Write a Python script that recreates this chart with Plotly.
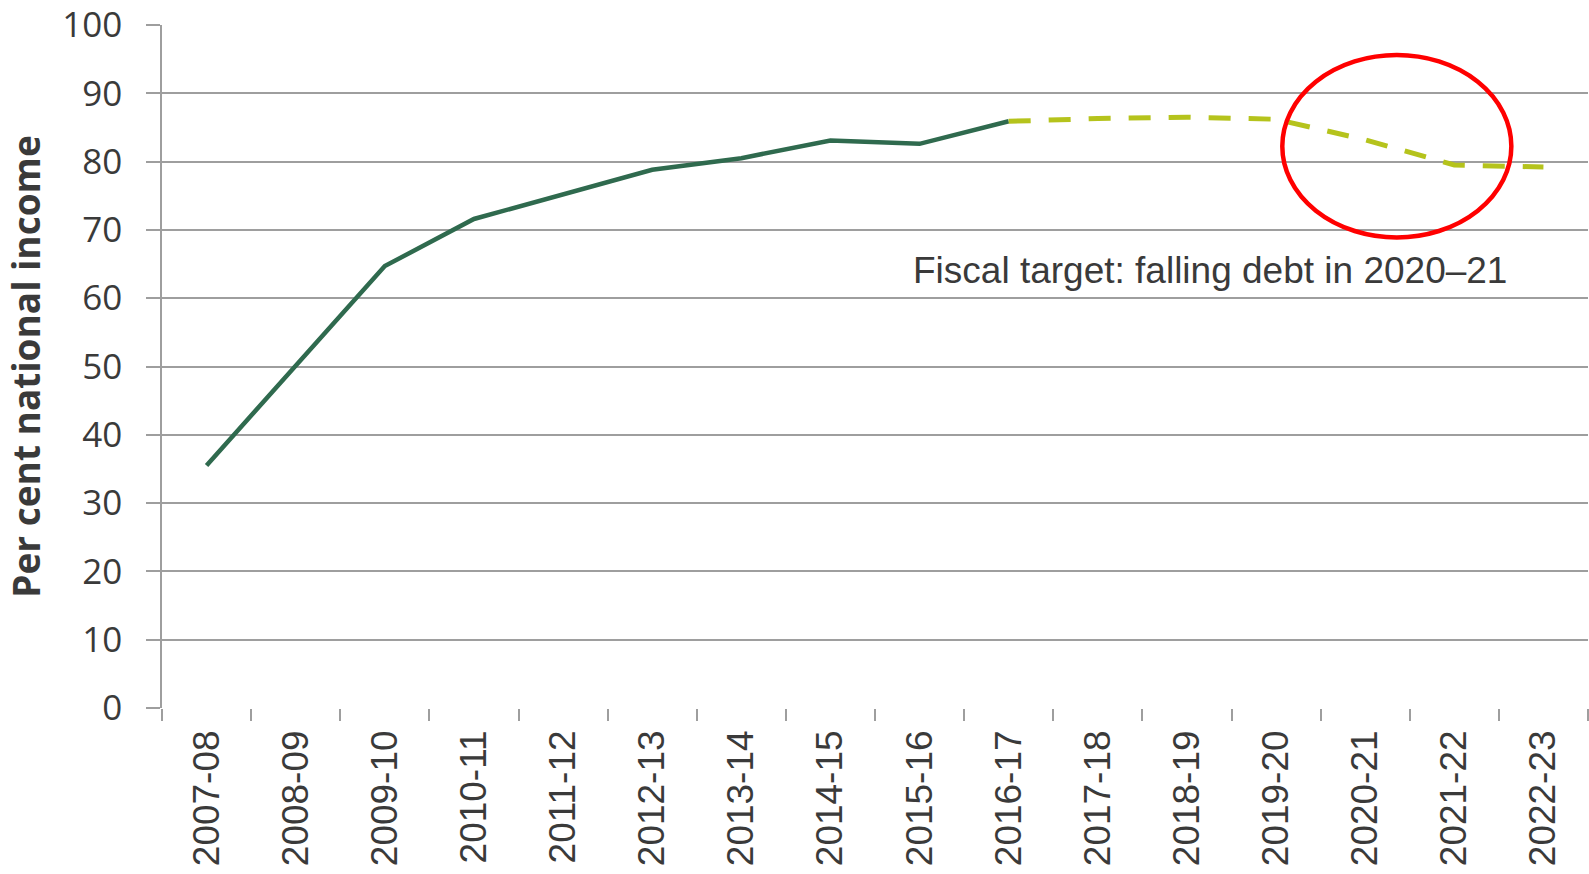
import plotly.graph_objects as go

years = ["2007-08", "2008-09", "2009-10", "2010-11", "2011-12", "2012-13", "2013-14",
         "2014-15", "2015-16", "2016-17", "2017-18", "2018-19", "2019-20", "2020-21",
         "2021-22", "2022-23"]
outturn_years = years[:10]
outturn = [35.5, 50.0, 64.7, 71.6, 75.2, 78.8, 80.5, 83.1, 82.6, 85.9]
forecast_years = years[9:]
forecast = [85.9, 86.3, 86.5, 86.2, 83.2, 79.5, 79.2]
y_ticks = [0, 10, 20, 30, 40, 50, 60, 70, 80, 90, 100]

GRID = "#9e9e9e"
TEXT = "#3a3a3a"

fig = go.Figure()
fig.add_trace(go.Scatter(x=outturn_years, y=outturn, mode="lines",
                         line=dict(color="#2f6a4e", width=4.5), showlegend=False,
                         hoverinfo="skip"))
fig.add_trace(go.Scatter(x=forecast_years, y=forecast, mode="lines",
                         line=dict(color="#b5c31c", width=5, dash="22px,18px"),
                         showlegend=False, hoverinfo="skip"))

fig.add_shape(type="circle", xref="x", yref="y", x0=12.07, x1=14.64, y0=68.9, y1=95.6,
              line=dict(color="#ff0000", width=4.5))
fig.add_annotation(x=7.90, y=64.0, xref="x", yref="y", xanchor="left", yanchor="middle",
                   text="Fiscal target: falling debt in 2020\u201321", showarrow=False,
                   font=dict(family="Liberation Sans, Arial", size=37, color=TEXT))

fig.update_layout(
    width=1589, height=874,
    margin=dict(l=162, r=1, t=25, b=166, autoexpand=False),
    paper_bgcolor="white", plot_bgcolor="white",
    xaxis=dict(type="category", categoryorder="array", categoryarray=years,
               tickson="boundaries", automargin=False,
               ticks="outside", ticklen=12, tickwidth=1.5, tickcolor=GRID,
               showgrid=False, showline=False, zeroline=False,
               tickangle=-90, ticklabelstandoff=14,
               tickfont=dict(family="Liberation Sans, Arial", size=37, color=TEXT),
               range=[-0.5, 15.5]),
    yaxis=dict(range=[0, 100], tickvals=y_ticks, showgrid=True, gridcolor=GRID,
               gridwidth=1.5, zeroline=False, showline=True, linecolor=GRID,
               linewidth=1.5, ticks="outside", ticklen=14, tickwidth=1.5, tickcolor=GRID,
               ticklabelstandoff=17, automargin=False,
               tickfont=dict(family="Open Sans", size=35, color=TEXT),
               title=dict(text="Per cent national income", standoff=10,
                          font=dict(family="Open Sans", size=37, color=TEXT, weight=700))),
)

fig.write_html("out.html")
